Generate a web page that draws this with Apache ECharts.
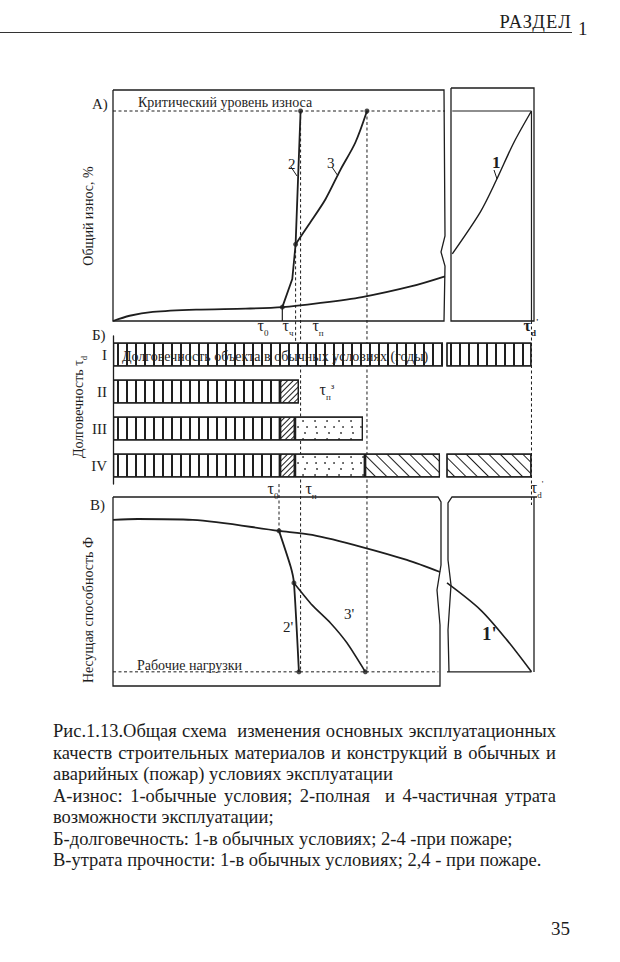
<!DOCTYPE html>
<html lang="ru">
<head>
<meta charset="utf-8">
<title>Рис.1.13</title>
<script src="https://cdn.jsdelivr.net/npm/echarts@6.0.0/dist/echarts.min.js"></script>
<style>
  html, body { margin: 0; background: #fff; }
  #page { position: relative; width: 620px; height: 962px; overflow: hidden; font-family: "Liberation Serif", "DejaVu Serif", serif; color: #1c1c1c; }
  #chart { position: absolute; left: 0; top: 0; width: 620px; height: 962px; }
  .head { position: absolute; left: 0; top: 0; width: 572px; height: 32px; border-bottom: 1.3px solid #333; }
  .head span { position: absolute; right: 0; bottom: 1px; font-size: 18.5px; line-height: 18px; letter-spacing: 1.2px; }
  .head-num { position: absolute; left: 578px; top: 19px; font-size: 19px; line-height: 19px; }
  .caption { position: absolute; left: 53px; top: 721px; width: 503px; font-size: 18.5px; line-height: 21.5px; }
  .caption div { white-space: nowrap; }
  .caption .j { text-align: justify; text-align-last: justify; }
  .pnum { position: absolute; left: 551px; top: 919px; font-size: 19px; line-height: 19px; }
</style>
</head>
<body>
<div id="page">
  <div id="chart"></div>
  <div class="head"><span>РАЗДЕЛ</span></div>
  <div class="head-num">1</div>
  <div class="caption">
    <div class="j">Рис.1.13.Общая схема&nbsp; изменения основных эксплуатационных</div>
    <div class="j">качеств строительных материалов и конструкций в обычных и</div>
    <div>аварийных (пожар) условиях эксплуатации</div>
    <div class="j">А-износ: 1-обычные условия; 2-полная&nbsp; и 4-частичная утрата</div>
    <div>возможности эксплуатации;</div>
    <div>Б-долговечность: 1-в обычных условиях; 2-4 -при пожаре;</div>
    <div>В-утрата прочности: 1-в обычных условиях; 2,4 - при пожаре.</div>
  </div>
  <div class="pnum">35</div>
</div>
<script>
// time in conventional units: 0..100 before the axis break, 180..205 after it
var tau0 = 51, tauCh = 55, tau2 = 56.5, tau3 = 76.5, tauD = 204;

// А) общий износ, % (критический уровень = 100)
var criticalLevel = 100;
var wearNormal = [[0, 0], [5, 2.5], [12, 4.3], [25, 5.4], [40, 5.9], [51, 6.6], [62, 8.5], [75, 11.4], [90, 16.6], [100, 21.3]];
var wearNormalEnd = [[181.5, 32], [189.5, 52], [194, 67], [199, 85], [204, 100]];
var wearFull = [[51, 6.6], [54, 20], [55, 36.5], [56.5, 100]];
var wearPartial = [[55, 36.5], [59, 46], [64, 58], [68.5, 72], [73, 85], [76.5, 100]];
var wearDots = [[51, 6.6], [55, 36.5], [56.5, 100], [76.5, 100]];

// Б) долговечность, stacked segments
var durCats = ['I', 'II', 'III', 'IV'];
var durNormal = [99.4, 50.3, 50.3, 50.3];
var durFire = ['-', 5.7, 4.5, 4.5];
var durDots = ['-', '-', 20.5, 21.1];
var durLoss = ['-', '-', '-', 22.6];
var durNormalEnd = [204, '-', '-', '-'];
var durLossEnd = ['-', '-', '-', 204];

// В) несущая способность
var workLoad = 7;
var capNormal = [[0, 87.8], [7.5, 88.3], [24, 87.8], [50, 82], [60, 79.8], [75, 73.4], [88.5, 66.5], [98.5, 60.1]];
var capNormalEnd = [[180, 54.3], [189.5, 40], [197, 24], [204, 7]];
var capFull = [[50, 82], [53.5, 63], [54.5, 54.3], [56, 7]];
var capPartial = [[54.5, 54.3], [60, 42.5], [65.5, 33], [70.5, 22.3], [76, 7]];
var capDots = [[50, 82], [54.5, 54.3], [56, 7], [76, 7]];

var ink = '#1e1e1e';
var serif = '"Liberation Serif", "DejaVu Serif", serif';

var chart = echarts.init(document.getElementById('chart'), null, { renderer: 'svg' });

function xAx(grid, min, max) {
  return { type: 'value', gridIndex: grid, min: min, max: max, show: false };
}
function yAx(grid, min, max) {
  return { type: 'value', gridIndex: grid, min: min, max: max, show: false };
}
function curve(data, idx, smooth, width) {
  return {
    type: 'line', xAxisIndex: idx, yAxisIndex: idx, data: data, symbol: 'none',
    smooth: smooth, silent: true, z: 3,
    lineStyle: { color: ink, width: width || 1.6 }
  };
}
function refLine(data, idx, dashed, width) {
  return {
    type: 'line', xAxisIndex: idx, yAxisIndex: idx, data: data, symbol: 'none', silent: true, z: 3,
    lineStyle: { color: ink, width: width || 1.1, type: dashed ? [3, 2.5] : 'solid' }
  };
}
function dots(data, idx) {
  return {
    type: 'scatter', xAxisIndex: idx, yAxisIndex: idx, data: data, symbolSize: 5, silent: true, z: 4,
    itemStyle: { color: ink }
  };
}

var hatchV = { symbol: 'rect', symbolSize: 1, color: ink, dashArrayX: [1.3, 6.1], dashArrayY: [4, 0] };
var hatchFire = { symbol: 'rect', symbolSize: 1, color: ink, dashArrayX: [1, 2.6], dashArrayY: [4, 0], rotation: Math.PI / 4 };
var hatchLoss = { symbol: 'rect', symbolSize: 1, color: ink, dashArrayX: [1, 6.2], dashArrayY: [4, 0], rotation: -Math.PI / 4 };
var hatchDots = { symbol: 'circle', symbolSize: 0.8, color: ink, dashArrayX: [[1.8, 7], [0, 3.5, 1.8, 5.2], [0, 1.5, 1.8, 7.2]], dashArrayY: [1.8, 3.6] };

function bar(data, idx, decal) {
  return {
    type: 'bar', xAxisIndex: idx, yAxisIndex: idx, data: data, stack: 'd' + idx, barWidth: 24, silent: true,
    itemStyle: { color: '#fff', borderColor: ink, borderWidth: 1.2, decal: decal }
  };
}

var option = {
  animation: false,
  backgroundColor: 'transparent',
  grid: [
    { left: 113, top: 90, width: 332, height: 231 },
    { left: 447, top: 90, width: 88, height: 231 },
    { left: 113, top: 336, width: 332, height: 148 },
    { left: 447, top: 336, width: 88, height: 148 },
    { left: 113, top: 497, width: 332, height: 188 },
    { left: 447, top: 497, width: 88, height: 188 }
  ],
  xAxis: [
    xAx(0, 0, 100), xAx(1, 180, 205),
    xAx(2, 0, 100), xAx(3, 180, 205),
    xAx(4, 0, 100), xAx(5, 180, 205)
  ],
  yAxis: [
    yAx(0, 0, 110), yAx(1, 0, 110),
    {
      type: 'category', gridIndex: 2, data: durCats, inverse: true,
      axisLine: { lineStyle: { color: ink, width: 1.3 } }, axisTick: { show: false },
      axisLabel: { color: ink, fontFamily: serif, fontSize: 15, margin: 6 }
    },
    { type: 'category', gridIndex: 3, data: durCats, inverse: true, show: false },
    yAx(4, 0, 100), yAx(5, 0, 100)
  ],
  series: [
    // А
    refLine([[0, criticalLevel], [100, criticalLevel]], 0, true, 1),
    refLine([[181.5, criticalLevel], [tauD, criticalLevel]], 1, false, 1.2),
    refLine([[tauD, criticalLevel], [tauD, 0]], 1, false, 1.2),
    refLine([[tau0, 6.6], [tau0, 0]], 0, false, 1.2),
    curve(wearNormal, 0, 0.3, 1.8),
    curve(wearNormalEnd, 1, 0.3, 1.4),
    curve(wearFull, 0, false, 1.8),
    curve(wearPartial, 0, 0.3, 1.8),
    dots(wearDots, 0),
    // Б
    bar(durNormal, 2, hatchV),
    bar(durFire, 2, hatchFire),
    bar(durDots, 2, hatchDots),
    bar(durLoss, 2, hatchLoss),
    bar(durNormalEnd, 3, hatchV),
    bar(durLossEnd, 3, hatchLoss),
    // В
    refLine([[0, workLoad], [98, workLoad]], 4, true, 1),
    refLine([[180, workLoad], [tauD, workLoad]], 5, false, 1.3),
    curve(capNormal, 4, 0.3, 1.8),
    curve(capNormalEnd, 5, 0.3, 1.6),
    curve(capFull, 4, 0.2, 1.8),
    curve(capPartial, 4, 0.2, 1.6),
    dots(capDots, 4)
  ]
};
chart.setOption(option);

function px(idx, x, y) { return chart.convertToPixel({ gridIndex: idx }, [x, y]); }

var tauRich = function (bold) {
  var w = bold ? 'bold' : 'normal';
  return {
    t: { fontSize: 16, lineHeight: 20, verticalAlign: 'top', fontFamily: serif, fontWeight: w, fill: ink },
    s: { fontSize: 9, lineHeight: 9, verticalAlign: 'bottom', fontFamily: serif, fontWeight: w, fill: ink },
    p: { fontSize: 9, lineHeight: 9, verticalAlign: 'top', fontFamily: serif, fontWeight: w, fill: ink }
  };
};
function tau(x, y, sub, sup, bold) {
  return {
    type: 'text', x: x, y: y, z: 100, silent: true,
    style: {
      text: '{t|τ}{s|' + sub + '}' + (sup ? '{p|' + sup + '}' : ''),
      rich: tauRich(bold), align: 'center', verticalAlign: 'middle'
    }
  };
}
function txt(x, y, s, size, opts) {
  opts = opts || {};
  return {
    type: 'text', x: x, y: y, z: 100, silent: true, rotation: opts.rotation || 0,
    style: {
      text: s, fill: ink, fontFamily: serif, fontSize: size, fontWeight: opts.bold ? 'bold' : 'normal',
      align: opts.align || 'left', verticalAlign: 'middle', rich: opts.rich
    }
  };
}
function poly(points, dashed, width) {
  return {
    type: 'polyline', z: 1, silent: true, shape: { points: points },
    style: { stroke: ink, fill: null, lineWidth: width || 1.3, lineDash: dashed ? [3, 2.5] : null }
  };
}

var xCh = px(0, tauCh, 0)[0];
var x2 = px(0, tau2, 0)[0];
var x3 = px(0, tau3, 0)[0];
var x0c = px(4, 50, 0)[0];
var xD = px(1, tauD, 0)[0];
var yCrit = px(0, 0, criticalLevel)[1];
var yWork = px(4, 0, workLoad)[1];

var graphic = [
  // frames
  poly([[113, 90], [444, 90], [445, 236], [441, 252], [445, 266], [444, 321], [113, 321], [113, 90]]),
  poly([[451, 88], [534, 88], [534, 321], [451, 321], [451, 88]]),
  poly([[113, 497], [438, 497], [441, 502], [441, 565], [437, 590], [440, 625], [440, 686], [113, 686], [113, 497]]),
  poly([[537, 497], [452, 497], [448, 503], [448, 560], [451, 585], [448, 630], [449, 672]]),
  poly([[534, 497], [534, 672]]),
  // dashed verticals
  poly([[xCh, px(0, tauCh, 36.5)[1]], [xCh, 345]], true, 1),
  poly([[x2, yCrit], [x2, yWork]], true, 1),
  poly([[x3, yCrit], [x3, yWork]], true, 1),
  poly([[x0c, 484], [x0c, px(4, 50, 82)[1]]], true, 1),
  poly([[xD, 321], [xD, 505]], true, 1),
  // leaders for curve numbers
  poly([[291, 167], [297, 176]], false, 1),
  poly([[332, 167], [338, 176]], false, 1),
  poly([[494, 170], [497, 179]], false, 1),
  // texts
  txt(92, 104, 'А)', 15),
  txt(92, 335, 'Б)', 15),
  txt(90, 505, 'В)', 15),
  txt(138, 102, 'Критический уровень износа', 14),
  txt(137, 665, 'Рабочие нагрузки', 14),
  txt(122, 356, 'Долговечность объекта в обычных условиях (годы)', 14),
  txt(288, 164, '2', 15),
  txt(327, 163, '3', 15),
  txt(492, 162, '1', 17, { bold: true }),
  txt(283, 627, '2\'', 15),
  txt(344, 614, '3\'', 15),
  txt(482, 633, '1\'', 19, { bold: true }),
  txt(88, 216, 'Общий износ, %', 14, { rotation: Math.PI / 2, align: 'center' }),
  {
    type: 'text', x: 80, y: 407, z: 100, silent: true, rotation: Math.PI / 2,
    style: {
      text: '{a|Долговечность τ}{b|d}', align: 'center', verticalAlign: 'middle',
      rich: {
        a: { fontSize: 14, lineHeight: 17, verticalAlign: 'top', fontFamily: serif, fill: ink },
        b: { fontSize: 8.5, lineHeight: 8.5, verticalAlign: 'bottom', fontFamily: serif, fill: ink }
      }
    }
  },
  txt(88, 610, 'Несущая способность Ф', 14, { rotation: Math.PI / 2, align: 'center' }),
  // tau marks
  tau(263, 327, '0'),
  tau(288, 327, 'ч'),
  tau(318, 327, 'п'),
  tau(531, 327, 'd', '\'', true),
  tau(327, 391, 'п', 'з'),
  tau(273, 490, '0'),
  tau(311, 490, 'п'),
  tau(537, 489, 'd', '\'')
];
chart.setOption({ graphic: graphic });
</script>
</body>
</html>
